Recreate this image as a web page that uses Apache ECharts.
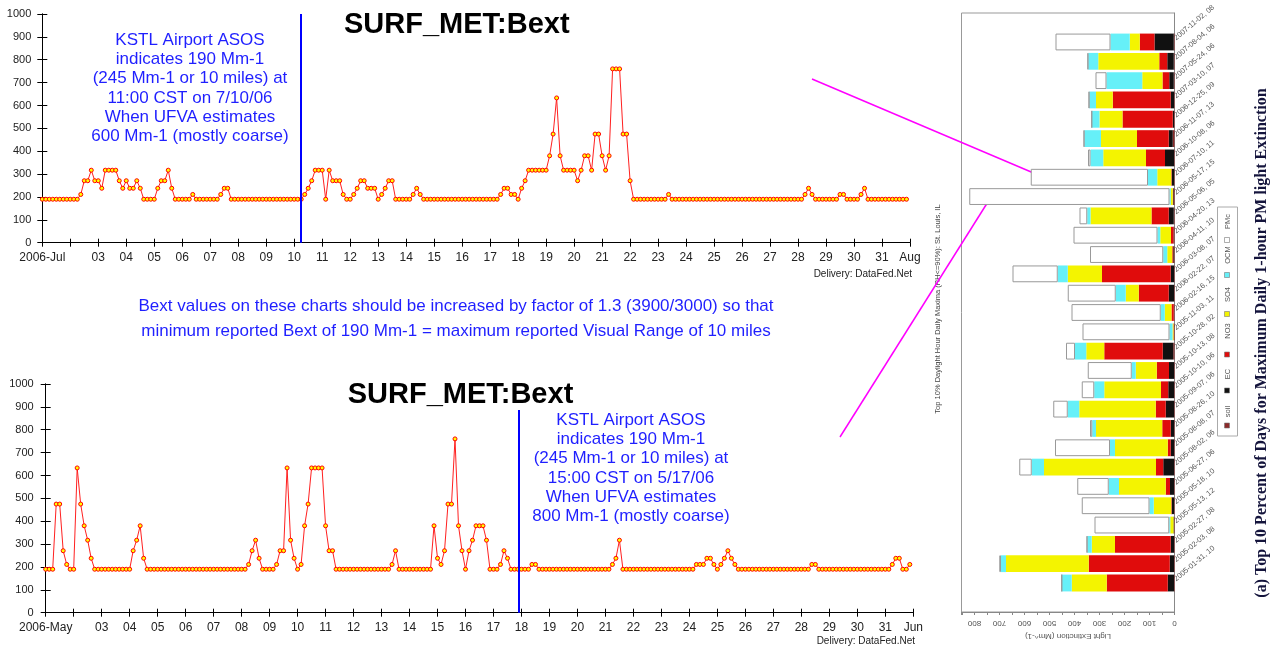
<!DOCTYPE html>
<html><head><meta charset="utf-8">
<script src="https://cdn.jsdelivr.net/npm/echarts@6/dist/echarts.min.js"></script>
<style>html,body{margin:0;padding:0;background:#fff}#c{width:1280px;height:648px}</style>
</head><body><div id="c"></div>
<script>
// ---------- Top chart: SURF_MET:Bext, July 2006 (3-hourly values, 8 per day) ----------
const julyBext = [
 [190,190,190,190,190,190,190,190], // 01
 [190,190,190,211,271,271,317,271], // 02
 [271,238,317,317,317,317,271,238], // 03
 [271,238,238,271,238,190,190,190], // 04
 [190,238,271,271,317,238,190,190], // 05
 [190,190,190,211,190,190,190,190], // 06
 [190,190,190,211,238,238,190,190], // 07
 [190,190,190,190,190,190,190,190], // 08
 [190,190,190,190,190,190,190,190], // 09
 [190,190,190,211,238,271,317,317], // 10
 [317,190,317,271,271,271,211,190], // 11
 [190,211,238,271,271,238,238,238], // 12
 [190,211,238,271,271,190,190,190], // 13
 [190,190,211,238,211,190,190,190], // 14
 [190,190,190,190,190,190,190,190], // 15
 [190,190,190,190,190,190,190,190], // 16
 [190,190,190,211,238,238,211,211], // 17
 [190,238,271,317,317,317,317,317], // 18
 [317,380,475,633,380,317,317,317], // 19
 [317,271,317,380,380,317,475,475], // 20
 [380,317,380,760,760,760,475,475], // 21
 [271,190,190,190,190,190,190,190], // 22
 [190,190,190,211,190,190,190,190], // 23
 [190,190,190,190,190,190,190,190], // 24
 [190,190,190,190,190,190,190,190], // 25
 [190,190,190,190,190,190,190,190], // 26
 [190,190,190,190,190,190,190,190], // 27
 [190,190,211,238,211,190,190,190], // 28
 [190,190,190,190,211,211,190,190], // 29
 [190,190,211,238,190,190,190,190], // 30
 [190,190,190,190,190,190,190,190]  // 31
];
const julyTickLabels = ['2006-Jul','','03','04','05','06','07','08','09','10','11','12','13','14','15','16','17','18','19','20','21','22','23','24','25','26','27','28','29','30','31','Aug'];
const julyMarkDay = 9.23; // KSTL ASOS report time (days after Jul 1)

// ---------- Bottom chart: SURF_MET:Bext, May 2006 ----------
const mayBext = [
 [190,190,190,475,475,271,211,190], // 01
 [190,633,475,380,317,238,190,190], // 02
 [190,190,190,190,190,190,190,190], // 03
 [190,271,317,380,238,190,190,190], // 04
 [190,190,190,190,190,190,190,190], // 05
 [190,190,190,190,190,190,190,190], // 06
 [190,190,190,190,190,190,190,190], // 07
 [190,190,211,271,317,238,190,190], // 08
 [190,190,211,271,271,633,317,238], // 09
 [190,211,380,475,633,633,633,633], // 10
 [380,271,271,190,190,190,190,190], // 11
 [190,190,190,190,190,190,190,190], // 12
 [190,190,190,211,271,190,190,190], // 13
 [190,190,190,190,190,190,190,380], // 14
 [238,211,271,475,475,760,380,271], // 15
 [190,271,317,380,380,380,317,190], // 16
 [190,190,211,271,238,190,190,190], // 17
 [190,190,190,211,211,190,190,190], // 18
 [190,190,190,190,190,190,190,190], // 19
 [190,190,190,190,190,190,190,190], // 20
 [190,190,211,238,317,190,190,190], // 21
 [190,190,190,190,190,190,190,190], // 22
 [190,190,190,190,190,190,190,190], // 23
 [190,190,211,211,211,238,238,211], // 24
 [190,211,238,271,238,211,190,190], // 25
 [190,190,190,190,190,190,190,190], // 26
 [190,190,190,190,190,190,190,190], // 27
 [190,190,190,211,211,190,190,190], // 28
 [190,190,190,190,190,190,190,190], // 29
 [190,190,190,190,190,190,190,190], // 30
 [190,190,211,238,238,190,190,211]  // 31
];
const mayTickLabels = ['2006-May','','03','04','05','06','07','08','09','10','11','12','13','14','15','16','17','18','19','20','21','22','23','24','25','26','27','28','29','30','31','Jun'];
const mayMarkDay = 16.9;

// ---------- Right chart: top 10% days, light extinction components ----------
const dayLabels = ['2007-11-02, 08','2007-08-04, 06','2007-05-24, 06','2007-03-10, 07','2006-12-25, 09','2006-11-07, 13','2006-10-08, 06','2006-07-10, 11','2006-05-17, 15','2006-05-06, 05','2006-04-20, 13','2006-04-11, 10','2006-03-08, 07','2006-02-22, 07','2006-02-16, 15','2005-11-03, 11','2005-10-28, 02','2005-10-13, 08','2005-10-10, 06','2005-09-07, 06','2005-08-26, 10','2005-08-08, 07','2005-08-02, 06','2005-06-27, 06','2005-05-18, 10','2005-05-13, 12','2005-02-27, 08','2005-02-03, 08','2005-01-31, 10'];
const soil = [3,3,3,2,2,7,2,2,2,3,2,2,2,2,2,2,5,2,2,2,2,2,2,2,2,2,2,2,2];
const EC   = [77,26,18,13,5,16,36,9,3,20,2,3,13,21,1,0,42,20,23,33,13,13,43,16,9,2,13,17,25];
const NO3  = [59,32,27,232,201,127,76,2,2,69,10,4,275,120,9,2,234,49,29,40,34,12,29,17,2,0,223,324,244];
const SO4  = [40,244,81,67,92,144,171,56,8,244,43,20,137,52,27,4,72,84,227,306,265,211,448,187,70,13,93,331,140];
const OCM  = [77,40,143,27,31,67,51,37,5,13,11,16,40,40,16,12,45,16,40,46,15,20,49,41,17,4,18,20,40];
const PMc  = [220,3,44,2,0,2,10,469,801,31,336,293,181,192,357,348,36,176,50,58,9,220,50,126,271,299,2,7,0];
const compNames = ['soil','EC','NO3','SO4','OCM','PMc'];
const compColors = ['#8b2a2a','#111111','#e00c0c','#f4f400','#66f0f8','#ffffff'];

// ---------- build ----------
const FONT = '"Liberation Sans", Arial, sans-serif';
const toPts = rows => rows.flat().map((v, i) => [i / 8, v]);
const pad = arr => [null, ...arr, null];
const cats = ['', ...dayLabels, ''];

function lineAxes(g, labels) {
  const base = {gridIndex: g, type: 'value', min: 0, max: 31, interval: 1,
    axisLine: {show: true, lineStyle: {color: '#000', width: 1}},
    axisTick: {show: true, inside: true, length: 4, lineStyle: {color: '#000'}},
    splitLine: {show: false}};
  return [
    Object.assign({}, base, {position: 'bottom',
      axisLabel: {formatter: v => labels[v] ?? '', fontSize: 12, color: '#222', margin: 9, fontFamily: FONT, showMinLabel: true, showMaxLabel: true}}),
    Object.assign({}, base, {position: 'top', axisLabel: {show: false}})
  ];
}
function lineYAxes(g, margin) {
  const base = {gridIndex: g, type: 'value', min: 0, max: 1000, interval: 100,
    axisLine: {show: true, lineStyle: {color: '#000', width: 1}},
    axisTick: {show: true, inside: true, length: 5, lineStyle: {color: '#000'}},
    splitLine: {show: false}};
  return [
    Object.assign({}, base, {position: 'left', axisLabel: {formatter: v => String(v), fontSize: 11, color: '#222', margin: margin, fontFamily: FONT}}),
    Object.assign({}, base, {position: 'right', axisLabel: {show: false}})
  ];
}
function lineSeries(xi, yi, rows, markDay) {
  return {type: 'line', xAxisIndex: xi, yAxisIndex: yi, data: toPts(rows),
    symbol: 'circle', symbolSize: 4, showAllSymbol: true,
    lineStyle: {color: '#ff2020', width: 1},
    itemStyle: {color: '#ffff00', borderColor: '#ff0000', borderWidth: 1},
    markLine: {symbol: 'none', silent: true, animation: false, label: {show: false},
      lineStyle: {color: '#0000ff', width: 2, type: 'solid'}, data: [{xAxis: markDay}]}};
}

const blue = '#1f1fff';
const titleStyle = {fontSize: 29, fontWeight: 'bold', color: '#000', fontFamily: FONT};

const option = {
  animation: false,
  backgroundColor: '#fff',
  textStyle: {fontFamily: FONT},
  title: [
    {text: 'SURF_MET:Bext', left: 340, top: 9, backgroundColor: '#fff', padding: [1, 13, 1, 4], textStyle: titleStyle},
    {text: 'SURF_MET:Bext', left: 343.7, top: 379, backgroundColor: '#fff', padding: [1, 13, 1, 4], textStyle: titleStyle}
  ],
  grid: [
    {left: 42.3, right: 370, top: 14, height: 228.7},
    {left: 45.7, right: 366.7, top: 384, height: 228.7},
    {left: 961.5, right: 105.5, top: 13, height: 599, show: true, borderColor: '#999', borderWidth: 1, backgroundColor: 'transparent'}
  ],
  xAxis: [
    ...lineAxes(0, julyTickLabels),
    ...lineAxes(1, mayTickLabels),
    {gridIndex: 2, type: 'value', inverse: true, min: 0, max: 852, interval: 50,
     axisLine: {show: true, lineStyle: {color: '#888'}},
     axisTick: {show: true, length: 3, lineStyle: {color: '#888'}},
     splitLine: {show: false},
     axisLabel: {rotate: 180, fontSize: 8, color: '#555', margin: 7, formatter: v => (v % 100 === 0 ? String(v) : '')},
     name: 'Light Extinction (Mm^-1)', nameLocation: 'middle', nameGap: 19, nameRotate: 180,
     nameTextStyle: {fontSize: 8, color: '#555'}}
  ],
  yAxis: [
    ...lineYAxes(0, 11),
    ...lineYAxes(1, 12),
    {gridIndex: 2, type: 'category', data: cats, inverse: true, position: 'right',
     axisLine: {show: true, lineStyle: {color: '#888'}},
     axisTick: {show: false},
     axisLabel: {interval: 0, rotate: 40, fontSize: 7.5, color: '#555', margin: 3, align: 'left', verticalAlign: 'bottom'}}
  ],
  series: [
    lineSeries(0, 0, julyBext, julyMarkDay),
    lineSeries(2, 2, mayBext, mayMarkDay),
    ...[soil, EC, NO3, SO4, OCM, PMc].map((arr, k) => ({
      name: compNames[k], type: 'bar', stack: 'pm', xAxisIndex: 4, yAxisIndex: 4,
      data: pad(arr), barCategoryGap: '13%',
      itemStyle: k === 5 ? {color: compColors[k], borderColor: '#999', borderWidth: 1} : {color: compColors[k]}
    }))
  ],
  graphic: [
    {type: 'text', x: 190, y: 30.5, silent: true, style: {
      text: 'KSTL Airport ASOS\nindicates 190 Mm-1\n(245 Mm-1 or 10 miles) at\n11:00 CST on 7/10/06\nWhen UFVA estimates\n600 Mm-1 (mostly coarse)',
      font: '17px ' + FONT, fill: blue, align: 'center', verticalAlign: 'top', textAlign: 'center', textVerticalAlign: 'top', lineHeight: 19.3}},
    {type: 'text', x: 631, y: 410.4, silent: true, style: {
      text: 'KSTL Airport ASOS\nindicates 190 Mm-1\n(245 Mm-1 or 10 miles) at\n15:00 CST on 5/17/06\nWhen UFVA estimates\n800 Mm-1 (mostly coarse)',
      font: '17px ' + FONT, fill: blue, align: 'center', verticalAlign: 'top', textAlign: 'center', textVerticalAlign: 'top', lineHeight: 19.3}},
    {type: 'text', x: 456, y: 294.2, silent: true, style: {
      text: 'Bext values on these charts should be increased by factor of 1.3 (3900/3000) so that\nminimum reported Bext of 190 Mm-1 = maximum reported Visual Range of 10 miles',
      font: '17px ' + FONT, fill: blue, align: 'center', verticalAlign: 'top', textAlign: 'center', textVerticalAlign: 'top', lineHeight: 25}},
    {type: 'text', x: 912, y: 274, silent: true, style: {text: 'Delivery: DataFed.Net', font: '10px ' + FONT, fill: '#222',
      align: 'right', verticalAlign: 'middle', textAlign: 'right', textVerticalAlign: 'middle'}},
    {type: 'text', x: 915, y: 641.5, silent: true, style: {text: 'Delivery: DataFed.Net', font: '10px ' + FONT, fill: '#222',
      align: 'right', verticalAlign: 'middle', textAlign: 'right', textVerticalAlign: 'middle'}},
    // right panel texts
    {type: 'text', x: 938, y: 309, rotation: Math.PI / 2, silent: true, style: {
      text: 'Top 10% Daylight Hour Daily Maxima (RH<=90%): St. Louis, IL', font: '7.5px ' + FONT, fill: '#444',
      align: 'center', verticalAlign: 'middle', textAlign: 'center', textVerticalAlign: 'middle'}},
    {type: 'text', x: 1262, y: 343, rotation: Math.PI / 2, silent: true, style: {
      text: '(a) Top 10 Percent of Days for Maximum Daily 1-hour PM light Extinction', font: 'bold 16px "Liberation Serif", "Times New Roman", serif', fill: '#14143c',
      align: 'center', verticalAlign: 'middle', textAlign: 'center', textVerticalAlign: 'middle'}},
    // legend box
    {type: 'rect', shape: {x: 1217.5, y: 207, width: 20, height: 229}, silent: true, style: {fill: '#fff', stroke: '#aaa', lineWidth: 1}},
    ...[['PMc', 221.5, 240, 5], ['OCM', 255, 275, 4], ['SO4', 294.5, 314, 3], ['NO3', 331, 354.5, 2], ['EC', 374, 390.5, 1], ['soil', 411.5, 425.5, 0]].flatMap(([t, ty, sy, ci]) => [
      {type: 'text', x: 1228, y: ty, rotation: Math.PI / 2, silent: true, style: {text: t, font: '7.5px ' + FONT, fill: '#555',
        align: 'center', verticalAlign: 'middle', textAlign: 'center', textVerticalAlign: 'middle'}},
      {type: 'rect', shape: {x: 1224.5, y: sy - 2.5, width: 5, height: 5}, silent: true,
        style: {fill: compColors[ci], stroke: '#777', lineWidth: 0.6}}
    ]),
    // magenta connector lines
    {type: 'line', shape: {x1: 812, y1: 79, x2: 1043, y2: 177}, silent: true, style: {stroke: '#ff00ff', lineWidth: 1.5}},
    {type: 'line', shape: {x1: 840, y1: 437, x2: 991, y2: 197}, silent: true, style: {stroke: '#ff00ff', lineWidth: 1.5}}
  ]
};

const chart = echarts.init(document.getElementById('c'), null, {renderer: 'canvas'});
chart.setOption(option);
</script>
</body></html>
